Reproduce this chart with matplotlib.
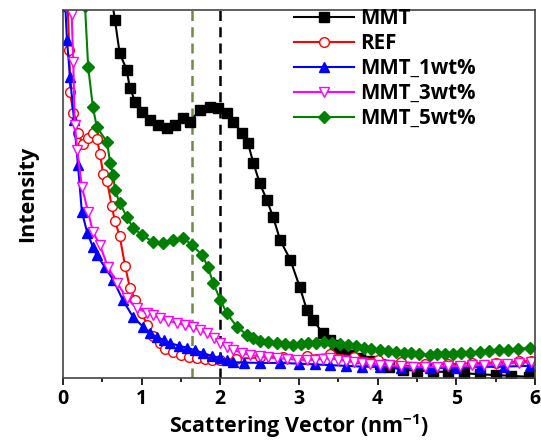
import matplotlib
matplotlib.use('Agg')
import matplotlib.pyplot as plt
from matplotlib.ticker import MultipleLocator

# значения (ось Y в условных единицах 0..100)
mmt_x = [0.62, 0.66, 0.72, 0.81, 0.85, 0.92, 1.00, 1.11, 1.21, 1.32, 1.42, 1.53, 1.61,
         1.74, 1.87, 1.97, 2.08, 2.16, 2.28, 2.35, 2.42, 2.50, 2.59, 2.67, 2.76, 2.89,
         3.01, 3.10, 3.18, 3.30, 3.39, 3.46, 3.52, 3.58, 3.66, 3.78, 3.90, 4.03, 4.15,
         4.32, 4.50, 4.70, 4.90, 5.10, 5.30, 5.50, 5.70, 5.93]
mmt_y = [103, 97.3, 88.3, 83.7, 78.8, 75.0, 72.3, 70.1, 68.8, 67.9, 68.8, 70.7, 69.6,
         72.8, 73.6, 73.4, 72.0, 69.6, 66.6, 63.9, 58.4, 53.0, 48.4, 43.8, 37.5, 32.1,
         24.7, 18.5, 15.8, 12.2, 10.3, 9.0, 8.0, 7.0, 6.2, 5.4, 4.6, 3.8, 3.0,
         2.2, 2.0, 1.8, 1.6, 1.3, 1.0, 0.8, 0.6, 0.3]

ref_x = [0.06, 0.08, 0.09, 0.13, 0.19, 0.25, 0.32, 0.38, 0.43, 0.47, 0.51, 0.56, 0.62,
         0.66, 0.72, 0.79, 0.85, 0.92, 1.00, 1.07, 1.15, 1.23, 1.30, 1.40, 1.50, 1.60,
         1.70, 1.80, 1.90, 2.00, 2.20, 2.50, 2.80, 3.10, 3.40, 3.70, 4.00, 4.30, 4.60,
         4.90, 5.20, 5.50, 5.80, 5.95]
ref_y = [101, 89, 77.7, 72, 66.6, 63.6, 65.2, 66.6, 65.0, 61.0, 55.4, 53.5, 46.7,
         42.7, 38.6, 30.4, 24.5, 21.2, 17.7, 14.5, 11.5, 9.5, 8.0, 7.0, 6.2, 5.8,
         5.4, 5.2, 5.0, 4.9, 5.2, 5.6, 5.7, 6.0, 6.5, 5.8, 5.0, 4.3, 3.9,
         3.8, 4.0, 4.2, 4.5, 4.6]

mmt1_x = [0.03, 0.05, 0.09, 0.14, 0.19, 0.24, 0.31, 0.38, 0.43, 0.53, 0.64, 0.76, 0.89,
          1.02, 1.10, 1.19, 1.28, 1.36, 1.47, 1.58, 1.68, 1.78, 1.89, 2.00, 2.08, 2.16,
          2.30, 2.50, 2.76, 3.00, 3.20, 3.39, 3.60, 3.80, 4.03, 4.30, 4.66, 5.00, 5.30,
          5.60, 5.94]
mmt1_y = [101, 91.8, 81.8, 70.1, 57.9, 45.1, 39.4, 35.6, 33.4, 30.2, 26.6, 21.2, 16.6,
          13.9, 12.3, 11.1, 10.2, 9.5, 8.8, 8.2, 7.5, 6.8, 6.0, 5.4, 4.8, 4.3,
          4.2, 4.1, 4.1, 3.9, 3.7, 3.5, 3.3, 3.1, 3.0, 2.8, 2.7, 2.8, 3.0,
          3.1, 3.3]

mmt3_x = [0.04, 0.11, 0.13, 0.15, 0.18, 0.24, 0.32, 0.38, 0.47, 0.57, 0.69, 0.81, 0.94,
          1.07, 1.15, 1.23, 1.34, 1.45, 1.55, 1.65, 1.74, 1.83, 1.92, 2.00, 2.08, 2.16,
          2.27, 2.38, 2.50, 2.60, 2.72, 2.85, 2.97, 3.10, 3.20, 3.30, 3.39, 3.50, 3.60,
          3.70, 3.80, 3.90, 4.03, 4.15, 4.30, 4.45, 4.60, 4.75, 4.90, 5.05, 5.20, 5.35,
          5.50, 5.65, 5.80, 5.95]
mmt3_y = [101, 99, 86, 68.8, 62, 51.9, 45.1, 39.7, 36.1, 30.2, 25.8, 21.7, 19.0,
          17.7, 17.0, 16.3, 15.6, 14.9, 14.4, 13.9, 13.0, 12.2, 10.8, 9.5, 8.5, 7.6,
          6.9, 6.3, 5.9, 5.6, 5.4, 5.2, 5.0, 4.9, 5.0, 5.2, 5.4, 5.0, 4.6,
          4.3, 4.0, 3.8, 3.5, 3.4, 3.2, 3.1, 3.0, 3.0, 3.2, 3.3, 3.4, 3.5,
          3.7, 3.9, 4.1, 4.3]

mmt5_x = [0.28, 0.32, 0.38, 0.43, 0.56, 0.60, 0.64, 0.66, 0.72, 0.81, 0.89, 1.00, 1.14,
          1.27, 1.40, 1.53, 1.64, 1.77, 1.84, 1.91, 2.00, 2.08, 2.21, 2.34, 2.42, 2.50,
          2.60, 2.72, 2.82, 2.92, 3.02, 3.12, 3.22, 3.32, 3.42, 3.52, 3.62, 3.72, 3.82,
          3.92, 4.03, 4.13, 4.23, 4.33, 4.43, 4.53, 4.66, 4.76, 4.86, 4.96, 5.06, 5.18,
          5.30, 5.42, 5.54, 5.66, 5.78, 5.94]
mmt5_y = [101, 84.5, 73.6, 68.2, 64.1, 58.4, 55.2, 51.1, 47.6, 43.8, 40.8, 38.9, 37.0,
          36.7, 37.5, 38.0, 36.1, 33.4, 30.2, 25.8, 21.2, 17.7, 13.9, 11.7, 10.8, 10.0,
          9.7, 9.5, 9.2, 9.0, 9.2, 9.4, 9.6, 9.7, 9.6, 9.3, 9.0, 8.6, 8.2,
          7.9, 7.6, 7.3, 7.1, 6.9, 6.7, 6.5, 6.3, 6.4, 6.5, 6.6, 6.8, 6.9,
          7.1, 7.3, 7.5, 7.7, 7.9, 8.2]

peak_lines = [1.64, 2.0]

plt.rcParams['font.family'] = ['Open Sans', 'DejaVu Sans']
plt.rcParams['font.weight'] = 'bold'
plt.rcParams['mathtext.default'] = 'regular'

fig = plt.figure(figsize=(5.41, 4.43), dpi=100)
ax = fig.add_axes([63 / 541, 65 / 443, 472 / 541, 368 / 443])

ax.axvline(peak_lines[0], color='#6f8a45', linestyle=(0, (4, 2.5)), linewidth=1.8, zorder=1)
ax.axvline(peak_lines[1], color='black', linestyle=(0, (4, 2.5)), linewidth=1.8, zorder=1)

ax.plot(mmt_x, mmt_y, '-s', color='black', markersize=7, linewidth=1.5, label='MMT')
ax.plot(ref_x, ref_y, '-o', color='red', mfc='white', markersize=7, linewidth=1.5, label='REF')
ax.plot(mmt1_x, mmt1_y, '-^', color='blue', markersize=7, linewidth=1.5, label='MMT_1wt%')
ax.plot(mmt3_x, mmt3_y, '-v', color='magenta', mfc='white', markersize=7.5, linewidth=1.5,
        label='MMT_3wt%')
ax.plot(mmt5_x, mmt5_y, '-D', color='green', markersize=6.5, linewidth=1.5, label='MMT_5wt%')

ax.set_xlim(0, 6)
ax.set_ylim(0, 100)
ax.xaxis.set_major_locator(MultipleLocator(1))
ax.xaxis.set_minor_locator(MultipleLocator(0.5))
ax.set_yticks([])
ax.tick_params(axis='x', which='major', length=5, width=1.2, labelsize=14, pad=3)
ax.tick_params(axis='x', which='minor', length=3, width=1.2)
for sp in ax.spines.values():
    sp.set_linewidth(1.2)
    sp.set_color('#444444')

ax.set_xlabel('Scattering Vector (nm$^{-1}$)', fontsize=15.5, fontweight='bold', labelpad=2)
ax.set_ylabel('Intensity', fontsize=15.5, fontweight='bold', labelpad=18)

ax.legend(loc='upper left', bbox_to_anchor=(0.49, 1.006), frameon=False, fontsize=14.8,
          handlelength=2.9, handletextpad=0.3, labelspacing=0.2, borderaxespad=0,
          borderpad=0)

plt.savefig('out.png', dpi=100)
plt.close()
